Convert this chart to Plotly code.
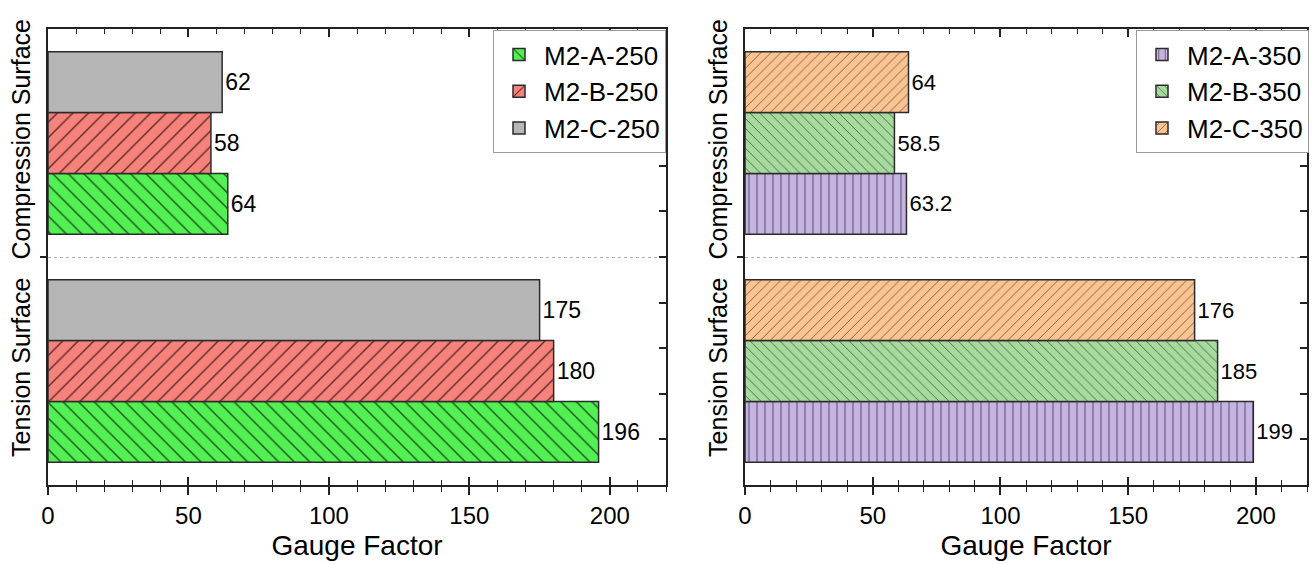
import plotly.graph_objects as go

# ---------------- data ----------------
surfaces = ["Tension Surface", "Compression Surface"]
surface_pos = [1, 2]

series_250 = ["M2-A-250", "M2-B-250", "M2-C-250"]
values_250 = {
    "M2-A-250": [196, 64],
    "M2-B-250": [180, 58],
    "M2-C-250": [175, 62],
}
series_350 = ["M2-A-350", "M2-B-350", "M2-C-350"]
values_350 = {
    "M2-A-350": [199, 63.2],
    "M2-B-350": [185, 58.5],
    "M2-C-350": [176, 64],
}
x_major = [0, 50, 100, 150, 200]
right_ticks = [0.7, 0.9, 1.1, 1.3, 1.5, 1.7, 1.9, 2.1, 2.3]

# ---------------- styles ----------------
style_250 = {
    "M2-A-250": dict(color="rgb(82,240,82)", shape="\\", size=11, fg="rgba(20,60,20,0.85)"),
    "M2-B-250": dict(color="rgb(246,130,124)", shape="/", size=11, fg="rgba(70,25,25,0.85)"),
    "M2-C-250": dict(color="rgb(182,182,182)", shape="", size=11, fg="rgba(0,0,0,0)"),
}
style_350 = {
    "M2-A-350": dict(color="rgb(198,180,224)", shape="|", size=8, fg="rgba(60,45,80,0.75)"),
    "M2-B-350": dict(color="rgb(168,218,160)", shape="\\", size=7, fg="rgba(30,70,30,0.75)"),
    "M2-C-350": dict(color="rgb(250,196,146)", shape="/", size=7, fg="rgba(90,55,25,0.75)"),
}

FONT = "Liberation Sans, Arial, sans-serif"
fig = go.Figure()


def add_bars(names, values, styles, xa, ya, legend, tsize):
    for n in names:
        s = styles[n]
        fig.add_trace(go.Bar(
            name=n, orientation="h",
            x=values[n], y=surface_pos,
            xaxis=xa, yaxis=ya, legend=legend,
            marker=dict(
                color=s["color"],
                line=dict(color="#2b2b2b", width=1.5),
                pattern=dict(shape=s["shape"], size=s["size"], solidity=0.13,
                             fgcolor=s["fg"], bgcolor=s["color"], fillmode="replace"),
            ),
            texttemplate="%{x}", textposition="outside", constraintext="none",
            textfont=dict(size=tsize, color="black", family=FONT),
            cliponaxis=False,
        ))


add_bars(series_250, values_250, style_250, "x", "y", "legend", 23)
add_bars(series_350, values_350, style_350, "x2", "y2", "legend2", 22)

# dummy traces to activate overlay axes
fig.add_trace(go.Scatter(x=[None], y=[None], xaxis="x3", yaxis="y3", showlegend=False, hoverinfo="skip"))
fig.add_trace(go.Scatter(x=[None], y=[None], xaxis="x4", yaxis="y4", showlegend=False, hoverinfo="skip"))

dom_left = [48 / 1316, 666 / 1316]
dom_right = [745 / 1316, 1307 / 1316]
dom_y = [1 - 485 / 564, 1 - 29 / 564]

LINE = dict(showline=True, linecolor="#222", linewidth=1.5, automargin=False)


def xmain(domain, anchor):
    return dict(domain=domain, anchor=anchor, range=[0, 220], tickmode="array", tickvals=x_major,
                ticks="outside", ticklen=8, tickwidth=1.5, tickcolor="#222",
                minor=dict(dtick=10, tick0=0, ticks="outside", ticklen=5, tickwidth=1.2, tickcolor="#222"),
                showgrid=False, zeroline=False,
                tickfont=dict(size=24, family=FONT, color="black"),
                title=dict(text="Gauge Factor", font=dict(size=28, family=FONT, color="black"), standoff=8),
                **LINE)


def xover(over, anchor):
    return dict(overlaying=over, anchor=anchor, range=[0, 220], tickmode="array", tickvals=x_major,
                ticks="inside", ticklen=8, tickwidth=1.5, tickcolor="#222",
                minor=dict(dtick=10, tick0=0, ticks="inside", ticklen=5, tickwidth=1.2, tickcolor="#222"),
                mirror="allticks", showticklabels=False, showgrid=False, zeroline=False, **LINE)


def ymain(domain, anchor):
    return dict(domain=domain, anchor=anchor, range=[0.5, 2.5], tickmode="array",
                tickvals=surface_pos, ticktext=surfaces, tickangle=-90, ticks="",
                ticklabelstandoff=6,
                tickfont=dict(size=25, family=FONT, color="black"),
                minor=dict(tickmode="array", tickvals=[1.5], ticks="outside", ticklen=6, tickwidth=1.5,
                           tickcolor="#222", showgrid=True, griddash="dot", gridcolor="#b0b0b0", gridwidth=1),
                showgrid=False, zeroline=False, **LINE)


def yover(over, anchor):
    return dict(overlaying=over, anchor=anchor, side="right", range=[0.5, 2.5], tickmode="array",
                tickvals=right_ticks, ticks="inside", ticklen=7, tickwidth=1.5, tickcolor="#222",
                showticklabels=False, showgrid=False, zeroline=False, **LINE)


leg_common = dict(
    font=dict(size=26, family=FONT, color="black"),
    bordercolor="#999", borderwidth=1, bgcolor="white",
    xanchor="right", yanchor="top", tracegroupgap=0, itemwidth=40,
)

fig.update_layout(
    width=1316, height=564,
    margin=dict(l=0, r=0, t=0, b=0),
    paper_bgcolor="white", plot_bgcolor="white",
    barmode="group", bargap=0.2, bargroupgap=0,
    font=dict(family=FONT, color="black"),
    xaxis=xmain(dom_left, "y"),
    yaxis=ymain(dom_y, "x"),
    xaxis2=xmain(dom_right, "y2"),
    yaxis2=ymain(dom_y, "x2"),
    xaxis3=xover("x", "y"),
    yaxis3=yover("y", "x"),
    xaxis4=xover("x2", "y2"),
    yaxis4=yover("y2", "x2"),
    legend=dict(x=666 / 1316, y=1 - 30 / 564, **leg_common),
    legend2=dict(x=1309 / 1316, y=1 - 30 / 564, **leg_common),
)

fig.write_html("out.html")
